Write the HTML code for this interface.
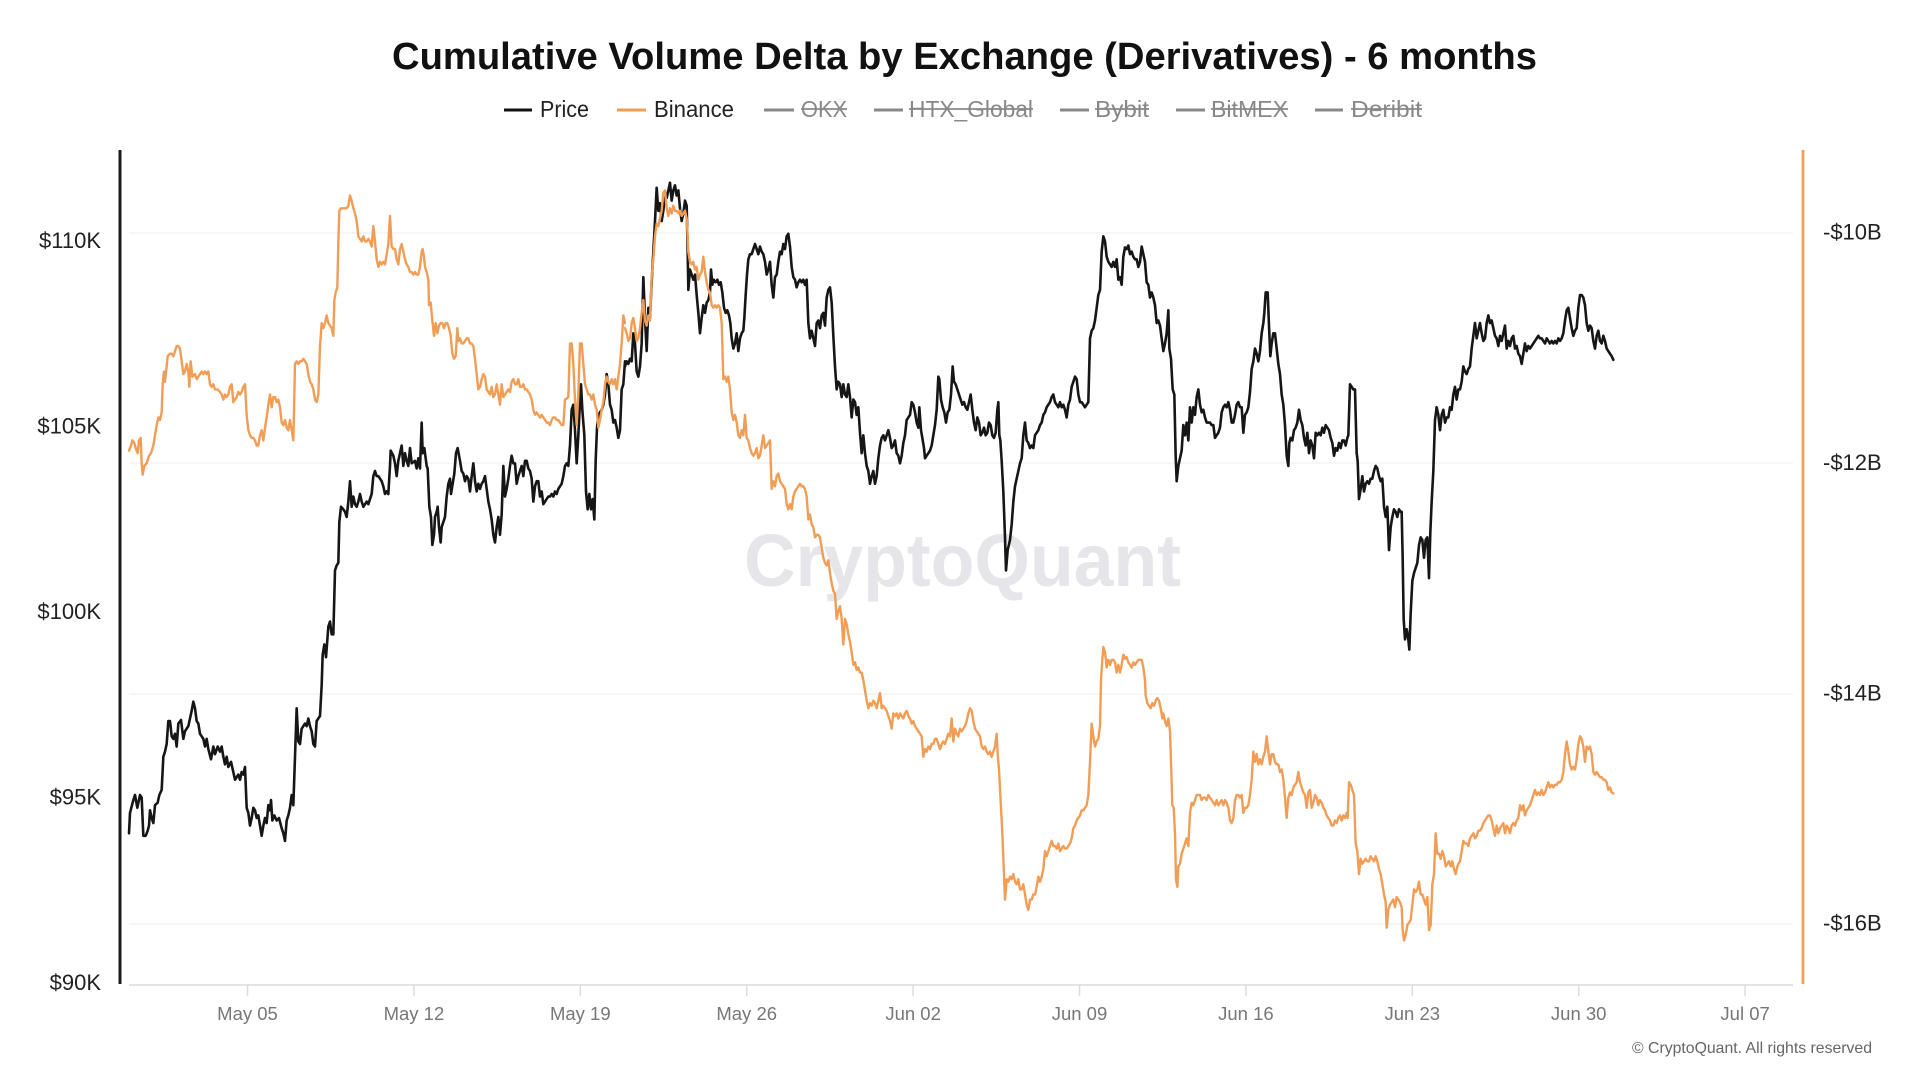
<!DOCTYPE html>
<html>
<head>
<meta charset="utf-8">
<style>
html,body{margin:0;padding:0;background:#fff;}
svg{display:block;}
text{font-family:"Liberation Sans",sans-serif;}
</style>
</head>
<body>
<svg width="1920" height="1080" viewBox="0 0 1920 1080" xmlns="http://www.w3.org/2000/svg">
<rect width="1920" height="1080" fill="#fff"/>

<!-- Title -->
<text x="392" y="69" font-size="38" font-weight="bold" fill="#111" textLength="1145" lengthAdjust="spacingAndGlyphs">Cumulative Volume Delta by Exchange (Derivatives) - 6 months</text>

<!-- Legend -->
<g font-size="23">
<line x1="504" y1="110" x2="532" y2="110" stroke="#111" stroke-width="3"/>
<text x="540" y="117" fill="#222" textLength="49" lengthAdjust="spacingAndGlyphs">Price</text>
<line x1="617" y1="110" x2="646" y2="110" stroke="#f29d55" stroke-width="3"/>
<text x="654" y="117" fill="#222" textLength="80" lengthAdjust="spacingAndGlyphs">Binance</text>

<line x1="764" y1="110" x2="794" y2="110" stroke="#888" stroke-width="3"/>
<text x="801" y="117" fill="#888" textLength="46" lengthAdjust="spacingAndGlyphs">OKX</text>
<line x1="801" y1="109" x2="847" y2="109" stroke="#888" stroke-width="1.8"/>

<line x1="874" y1="110" x2="903" y2="110" stroke="#888" stroke-width="3"/>
<text x="909" y="117" fill="#888" textLength="124" lengthAdjust="spacingAndGlyphs">HTX_Global</text>
<line x1="909" y1="109" x2="1033" y2="109" stroke="#888" stroke-width="1.8"/>

<line x1="1060" y1="110" x2="1089" y2="110" stroke="#888" stroke-width="3"/>
<text x="1095" y="117" fill="#888" textLength="54" lengthAdjust="spacingAndGlyphs">Bybit</text>
<line x1="1095" y1="109" x2="1149" y2="109" stroke="#888" stroke-width="1.8"/>

<line x1="1176" y1="110" x2="1205" y2="110" stroke="#888" stroke-width="3"/>
<text x="1211" y="117" fill="#888" textLength="77" lengthAdjust="spacingAndGlyphs">BitMEX</text>
<line x1="1211" y1="109" x2="1288" y2="109" stroke="#888" stroke-width="1.8"/>

<line x1="1315" y1="110" x2="1343" y2="110" stroke="#888" stroke-width="3"/>
<text x="1351" y="117" fill="#888" textLength="71" lengthAdjust="spacingAndGlyphs">Deribit</text>
<line x1="1351" y1="109" x2="1422" y2="109" stroke="#888" stroke-width="1.8"/>
</g>

<!-- Gridlines -->
<g stroke="#f0f0f0" stroke-width="1.3">
<line x1="129" y1="233" x2="1793" y2="233"/>
<line x1="129" y1="463" x2="1793" y2="463"/>
<line x1="129" y1="694" x2="1793" y2="694"/>
<line x1="129" y1="924" x2="1793" y2="924"/>
</g>

<!-- Watermark -->
<text x="744" y="586" font-size="74" font-weight="bold" fill="#e5e5ea" textLength="437" lengthAdjust="spacingAndGlyphs">CryptoQuant</text>

<!-- X axis -->
<line x1="129" y1="985" x2="1793" y2="985" stroke="#dcdcdc" stroke-width="1.6"/>
<g stroke="#dcdcdc" stroke-width="1.5">
<line x1="247.5" y1="985" x2="247.5" y2="996"/>
<line x1="413.9" y1="985" x2="413.9" y2="996"/>
<line x1="580.3" y1="985" x2="580.3" y2="996"/>
<line x1="746.7" y1="985" x2="746.7" y2="996"/>
<line x1="913.1" y1="985" x2="913.1" y2="996"/>
<line x1="1079.5" y1="985" x2="1079.5" y2="996"/>
<line x1="1245.9" y1="985" x2="1245.9" y2="996"/>
<line x1="1412.3" y1="985" x2="1412.3" y2="996"/>
<line x1="1578.7" y1="985" x2="1578.7" y2="996"/>
<line x1="1745.1" y1="985" x2="1745.1" y2="996"/>
</g>
<g font-size="18.5" fill="#777" text-anchor="middle">
<text x="247.5" y="1020">May 05</text>
<text x="413.9" y="1020">May 12</text>
<text x="580.3" y="1020">May 19</text>
<text x="746.7" y="1020">May 26</text>
<text x="913.1" y="1020">Jun 02</text>
<text x="1079.5" y="1020">Jun 09</text>
<text x="1245.9" y="1020">Jun 16</text>
<text x="1412.3" y="1020">Jun 23</text>
<text x="1578.7" y="1020">Jun 30</text>
<text x="1745.1" y="1020">Jul 07</text>
</g>

<!-- Left axis -->
<line x1="120" y1="150" x2="120" y2="984" stroke="#1a1a1a" stroke-width="3"/>
<g font-size="22" fill="#222" text-anchor="end">
<text x="101" y="248">$110K</text>
<text x="101" y="433.5">$105K</text>
<text x="101" y="619">$100K</text>
<text x="101" y="804.5">$95K</text>
<text x="101" y="990">$90K</text>
</g>

<!-- Right axis -->
<line x1="1803" y1="150" x2="1803" y2="984" stroke="#f29d55" stroke-width="2.7"/>
<g font-size="22" fill="#222" text-anchor="start">
<text x="1823" y="239.7">-$10B</text>
<text x="1823" y="470">-$12B</text>
<text x="1823" y="700.3">-$14B</text>
<text x="1823" y="930.7">-$16B</text>
</g>

<!-- Series: crop 1 -->
<g transform="translate(125,170) scale(0.333333,0.510204)" fill="none" stroke-linejoin="round" stroke-linecap="round">
<polyline vector-effect="non-scaling-stroke" stroke="#161616" stroke-width="2.6" points="12,1300 15,1260 25,1235 30,1225 37,1250 45,1225 50,1230 55,1305 62,1305 68,1295 72,1285 75,1255 80,1270 85,1280 90,1245 98,1240 103,1225 110,1215 115,1150 120,1140 125,1125 130,1080 135,1080 140,1110 145,1115 150,1105 155,1130 160,1085 168,1078 175,1115 180,1100 190,1090 195,1075 200,1060 205,1042 210,1055 215,1080 220,1085 225,1105 230,1110 235,1115 240,1130 245,1115 250,1135 258,1155 265,1130 270,1145 278,1130 285,1140 290,1130 295,1150 300,1165 305,1150 310,1170 318,1160 325,1180 330,1195 335,1190 340,1185 345,1195 350,1180 355,1185 360,1170 365,1250 370,1260 375,1285 380,1270 385,1250 390,1255 395,1270 400,1265 405,1285 410,1305 415,1285 420,1270 425,1280 430,1245 435,1255 438,1235 442,1275 448,1265 455,1275 462,1270 470,1290 475,1300 480,1315 485,1275 490,1265 495,1250 500,1225 505,1245 510,1150 515,1055 520,1120 525,1125 530,1095 540,1085 545,1090 550,1075 555,1090 560,1100 565,1125 570,1130 575,1080 585,1070 590,1010 593,950 598,930 603,955 610,895 615,885 620,910 625,910 630,785 635,775 640,770 643,690 648,660 655,665 660,670 665,680 670,650 675,610 680,660 685,640 690,655 695,660 700,650 705,635 710,650 715,660 720,655 725,650 730,655 735,645 740,635 745,600 750,590 755,600 760,600 765,605 770,610 775,620 780,635 785,630 790,635 795,580 797,550 805,560 810,575 815,600 820,570 825,555 830,540 835,580 840,555 845,570 850,580 855,545 860,575 870,570 875,585 880,565 885,585 890,495 893,555 898,545 905,580 908,585 913,660 918,680 922,735 927,715 930,680 935,670 938,660 942,700 947,730 950,700 955,690 960,680 965,640 970,615 975,605 978,635 983,615 988,595 993,555 998,545 1005,570 1010,590 1015,595 1020,610 1025,600 1030,605 1035,630 1040,600 1045,575 1050,610 1055,630 1060,615 1065,625 1070,615 1075,610 1080,600 1085,625 1090,650 1095,665 1100,685 1105,715 1110,730 1115,700 1120,680 1125,715 1130,675 1135,580 1140,640 1145,625 1150,605 1155,580 1160,560 1165,575 1170,575 1175,615 1180,600 1185,590 1190,580 1195,600 1200,570 1205,570 1210,585 1215,590 1220,605 1225,650 1230,620 1235,610 1240,610 1245,640 1250,630 1255,655 1260,650 1265,645 1270,640 1275,640 1280,635 1285,640 1290,630 1295,635 1300,625 1305,620 1310,615 1315,600 1320,580 1325,575 1330,580 1335,540 1340,470 1345,460 1350,510 1355,575 1360,520 1365,455 1368,420 1372,470 1378,520 1383,630 1388,665 1393,635 1398,665 1403,645 1408,685 1412,570 1416,505 1420,480 1425,475 1430,470 1435,460 1440,440 1445,400 1450,420 1455,460 1460,470 1465,495 1470,490 1475,505 1480,525 1485,510 1490,430 1495,420 1500,375"/>
<polyline vector-effect="non-scaling-stroke" stroke="#f29d55" stroke-width="2.4" points="12,550 18,540 22,530 28,535 32,545 38,555 42,530 47,525 50,575 53,597 58,580 65,575 72,560 78,555 85,540 90,520 95,500 100,485 105,490 110,475 113,420 117,395 120,415 125,385 128,365 135,360 140,360 145,365 150,355 155,345 160,345 165,350 170,375 175,400 180,395 185,380 190,395 193,425 197,375 202,405 210,400 215,410 220,405 225,400 230,395 235,400 240,395 245,400 250,395 255,420 260,425 265,420 270,430 278,430 285,435 290,440 295,450 300,440 305,445 310,440 315,425 320,420 325,455 330,450 335,445 340,435 345,440 350,435 355,425 360,420 365,480 370,510 375,520 380,525 385,525 390,530 395,540 400,540 405,520 410,510 415,530 420,505 425,485 430,460 435,440 440,465 445,445 450,445 455,455 460,450 465,465 470,495 475,500 480,490 485,505 490,510 495,490 500,510 505,530 510,380 515,375 520,380 525,375 530,375 535,370 540,375 545,380 550,400 555,415 560,420 565,430 570,450 575,455 580,440 585,345 590,300 595,310 600,300 605,285 610,300 615,305 620,310 625,325 628,255 632,240 637,230 640,140 643,80 648,75 655,75 665,75 670,70 675,50 680,60 685,75 690,85 695,100 700,130 705,135 710,140 715,130 720,140 725,140 730,135 735,140 740,150 745,110 750,140 755,175 760,190 765,180 770,185 775,180 780,185 785,165 790,145 795,90 800,150 805,155 810,155 815,175 820,185 825,155 830,145 835,160 840,175 845,185 850,190 855,200 860,200 865,205 870,200 875,205 880,205 885,190 890,160 893,155 897,170 900,190 905,200 910,215 912,265 917,260 922,295 927,325 932,300 937,320 942,305 947,300 952,300 957,310 962,300 967,300 972,310 977,325 982,360 987,370 992,365 997,310 1000,335 1005,330 1010,340 1015,340 1020,335 1025,330 1030,330 1035,340 1040,340 1045,345 1050,370 1055,400 1060,430 1065,425 1070,410 1075,400 1080,405 1085,430 1090,435 1095,440 1100,425 1105,445 1110,440 1115,420 1120,440 1125,460 1130,420 1135,445 1140,440 1145,435 1150,430 1155,435 1160,415 1165,410 1170,420 1175,420 1180,410 1185,425 1190,425 1195,420 1200,430 1205,430 1210,435 1215,440 1220,450 1225,470 1230,480 1235,475 1240,480 1245,485 1250,480 1255,485 1260,490 1265,495 1270,495 1275,500 1280,490 1285,485 1290,485 1295,490 1300,490 1305,495 1310,500 1315,500 1320,450 1325,448 1330,445 1335,340 1340,340 1345,380 1350,450 1355,500 1360,440 1365,340 1370,340 1375,380 1380,420 1385,430 1390,440 1395,440 1400,450 1405,440 1410,460 1415,470 1420,505 1425,490 1430,470 1435,455 1440,420 1445,405 1450,415 1455,420 1460,410 1465,420 1470,410 1475,430 1480,405 1485,380 1490,340 1495,285 1500,300"/>
</g>

<!-- Series: crop 2 -->
<g transform="translate(625,170) scale(0.333333,0.510204)" fill="none" stroke-linejoin="round" stroke-linecap="round">
<polyline vector-effect="non-scaling-stroke" stroke="#161616" stroke-width="2.6" points="0,385 5,375 10,380 15,370 20,375 25,320 30,340 35,395 40,405 45,385 50,340 55,210 60,290 65,355 70,270 75,290 80,220 85,160 90,100 95,35 100,80 105,65 110,100 115,80 120,50 125,55 130,40 135,25 140,60 145,40 150,30 155,50 160,40 165,75 170,100 175,85 180,60 185,70 188,160 190,235 195,195 200,205 205,215 210,205 215,245 220,280 225,320 230,290 235,265 240,280 245,260 250,255 255,240 258,195 262,225 266,215 272,220 277,215 282,225 287,220 292,240 297,270 302,280 307,275 312,285 316,300 320,330 325,350 330,340 335,320 340,355 345,330 350,320 355,315 358,290 362,245 366,205 370,175 375,165 380,165 385,155 390,145 395,155 400,165 405,150 410,160 415,165 420,180 425,205 430,195 435,180 440,225 445,250 450,210 455,205 460,180 465,160 470,165 475,145 480,155 485,130 490,125 495,150 500,190 505,210 510,215 515,230 520,220 525,215 530,220 535,215 540,225 545,215 550,300 555,330 560,315 565,330 570,345 575,300 580,295 585,310 590,285 595,280 600,305 605,250 610,235 615,230 620,260 625,325 630,385 635,430 640,415 645,420 650,445 655,420 660,440 665,445 670,420 675,445 680,485 685,450 690,455 695,480 700,465 705,515 710,555 715,520 720,555 725,580 730,590 735,615 740,600 745,590 750,615 755,600 760,565 765,540 770,525 775,520 780,530 785,520 790,510 795,525 800,545 805,540 810,530 815,555 820,560 825,575 830,560 835,535 840,520 845,490 850,485 855,480 860,455 865,460 870,475 875,495 880,505 883,465 888,510 892,525 897,545 900,565 905,560 910,555 915,550 920,540 925,520 930,500 935,470 940,405 943,410 948,450 953,465 958,475 963,495 968,475 973,470 978,440 983,385 987,415 992,420 997,430 1002,440 1007,450 1012,460 1017,455 1022,465 1027,470 1032,455 1037,440 1042,470 1047,495 1052,510 1057,485 1062,495 1067,520 1072,515 1077,505 1082,520 1087,515 1092,495 1097,500 1102,520 1107,525 1112,515 1117,470 1120,455 1123,520 1126,530 1130,570 1135,630 1140,720 1143,785 1148,745 1155,725 1160,695 1165,650 1170,620 1175,605 1180,590 1185,575 1190,565 1195,520 1200,495 1205,530 1210,535 1215,545 1220,540 1225,545 1230,520 1235,515 1240,510 1245,500 1250,495 1255,480 1260,475 1265,465 1270,460 1275,455 1280,445 1285,440 1290,455 1295,460 1300,465 1305,455 1310,465 1315,460 1320,470 1325,485 1330,460 1335,450 1340,425 1345,415 1350,405 1355,410 1360,440 1365,455 1370,455 1375,460 1380,465 1385,460 1390,455 1395,330 1400,315 1405,310 1410,295 1415,270 1420,245 1425,235 1430,160 1435,130 1440,140 1445,170 1450,180 1455,185 1460,190 1465,180 1470,190 1475,175 1480,215 1485,210 1490,225 1495,170 1500,152"/>
<polyline vector-effect="non-scaling-stroke" stroke="#f29d55" stroke-width="2.4" points="0,310 5,320 10,335 15,330 20,300 25,290 30,310 35,335 40,330 45,310 50,280 55,255 60,295 65,305 70,285 75,295 80,210 85,175 90,130 95,105 100,110 105,95 110,80 115,45 120,40 125,75 130,90 135,75 140,85 145,70 150,80 155,80 160,85 165,80 170,90 175,85 180,80 185,95 188,130 190,160 195,180 200,185 205,180 210,195 215,190 220,215 225,205 230,200 235,170 240,200 245,220 250,235 255,240 260,265 265,270 270,265 275,270 280,265 285,270 290,300 295,410 300,405 305,415 310,405 315,430 320,475 325,490 330,480 335,495 340,520 345,525 350,510 355,520 360,480 365,525 370,530 375,545 380,555 385,560 390,555 395,545 400,565 405,560 410,540 415,520 420,545 425,540 430,535 435,530 440,625 445,610 450,620 455,600 460,595 465,610 470,615 475,620 480,625 485,655 490,665 495,655 500,665 505,640 510,630 515,625 520,620 525,615 530,620 535,620 540,625 545,640 550,685 555,675 560,695 565,700 570,720 575,715 580,715 585,720 590,740 595,760 600,770 605,775 610,765 615,790 620,810 625,825 630,830 635,880 640,865 645,855 650,880 655,930 660,880 665,890 670,910 675,925 680,945 685,970 690,965 695,980 700,975 705,985 710,985 715,1000 720,1020 725,1040 730,1055 735,1045 740,1050 745,1040 750,1045 755,1055 760,1040 765,1025 770,1055 775,1050 780,1055 785,1060 790,1070 795,1080 800,1095 805,1065 810,1070 815,1065 820,1075 825,1065 830,1070 835,1075 840,1065 845,1060 850,1070 855,1075 860,1085 865,1080 870,1090 875,1095 880,1100 885,1105 890,1110 895,1150 900,1135 905,1140 910,1130 915,1135 920,1125 925,1125 930,1115 935,1115 940,1125 945,1135 950,1125 955,1120 960,1125 965,1115 970,1105 975,1110 980,1075 985,1120 990,1095 995,1105 1000,1110 1005,1095 1010,1100 1015,1095 1020,1090 1025,1080 1030,1065 1035,1055 1040,1060 1045,1080 1050,1095 1055,1100 1060,1105 1065,1110 1070,1130 1075,1135 1080,1130 1085,1140 1090,1145 1095,1140 1100,1150 1105,1140 1110,1130 1115,1105 1118,1145 1122,1175 1128,1250 1132,1300 1137,1380 1140,1430 1145,1390 1150,1395 1155,1385 1160,1390 1165,1380 1170,1395 1175,1400 1180,1390 1185,1410 1190,1410 1195,1400 1200,1420 1205,1440 1210,1450 1215,1430 1220,1430 1225,1420 1230,1420 1235,1405 1240,1385 1245,1395 1250,1385 1255,1370 1260,1335 1265,1345 1270,1335 1275,1325 1280,1315 1285,1325 1290,1325 1295,1330 1300,1320 1305,1335 1310,1330 1315,1325 1320,1330 1325,1330 1330,1325 1335,1320 1340,1310 1345,1290 1350,1285 1355,1275 1360,1270 1365,1265 1370,1255 1375,1255 1380,1250 1385,1245 1390,1225 1395,1160 1400,1085 1405,1110 1410,1130 1415,1120 1420,1115 1425,1090 1428,1000 1432,960 1435,935 1440,945 1445,975 1450,960 1455,970 1460,960 1465,960 1470,965 1475,985 1480,970 1485,985 1490,970 1495,950 1500,955"/>
</g>

<!-- Series: crop 3 -->
<g transform="translate(1125,170) scale(0.333333,0.510204)" fill="none" stroke-linejoin="round" stroke-linecap="round">
<polyline vector-effect="non-scaling-stroke" stroke="#161616" stroke-width="2.6" points="0,152 5,155 10,148 15,165 20,160 25,170 30,175 35,175 40,190 45,180 50,150 55,165 60,180 65,220 70,225 75,250 80,240 85,250 90,265 95,300 100,295 105,305 110,330 115,355 120,340 125,320 130,275 133,350 138,370 143,430 148,440 152,560 155,610 160,580 165,565 170,550 175,500 180,520 185,495 190,530 195,465 200,495 205,465 210,480 215,445 220,430 225,460 230,475 235,470 240,485 245,495 250,495 255,495 260,500 265,500 270,525 275,520 280,515 285,505 290,475 295,465 300,460 305,465 310,455 315,470 320,495 325,495 330,480 335,460 340,455 345,465 350,465 355,515 360,480 365,475 370,465 375,435 380,390 385,375 390,350 395,360 400,375 405,355 410,320 415,300 418,280 422,240 428,240 432,305 436,365 440,340 445,320 450,320 455,350 460,380 465,400 470,440 475,460 480,500 485,560 490,580 493,535 497,525 502,530 507,510 512,505 517,495 522,470 527,490 532,500 537,525 542,540 547,515 552,555 557,530 562,540 567,565 572,515 577,520 582,515 587,520 592,505 597,515 602,500 607,505 612,510 617,525 622,535 627,560 632,545 637,550 642,535 647,545 652,530 657,530 662,540 667,525 670,520 675,420 680,425 685,430 690,430 695,555 698,570 702,645 707,625 712,600 717,630 722,615 727,610 732,615 737,605 742,605 747,590 752,580 757,585 762,600 767,610 772,605 777,660 782,680 787,660 792,745 797,700 802,680 807,665 812,670 817,680 822,665 827,670 830,670 833,760 836,880 840,920 845,900 850,920 853,940 857,870 862,805 867,790 872,780 877,770 882,735 887,720 892,725 897,760 902,725 907,720 912,800 916,710 920,650 925,590 930,490 935,465 940,480 945,510 950,480 955,470 960,495 965,485 970,485 975,465 980,470 985,440 990,425 995,450 1000,430 1005,430 1010,415 1015,385 1020,395 1025,400 1030,390 1035,385 1040,350 1045,325 1050,300 1055,330 1060,315 1065,300 1070,320 1075,335 1080,330 1085,300 1090,285 1095,300 1100,295 1105,310 1110,325 1115,330 1120,345 1125,325 1130,335 1135,320 1140,305 1145,350 1150,335 1155,345 1160,330 1165,325 1170,350 1175,345 1180,360 1185,365 1190,380 1195,360 1200,340 1205,355 1210,345 1215,350 1220,345 1225,340 1230,335 1235,330 1240,325 1245,330 1250,330 1255,335 1260,340 1265,330 1270,335 1275,340 1280,335 1285,340 1290,335 1295,340 1300,330 1305,335 1310,330 1315,320 1320,295 1325,275 1330,270 1335,290 1340,310 1345,325 1350,315 1355,310 1360,270 1365,245 1370,245 1375,250 1380,265 1385,300 1390,315 1395,305 1400,310 1405,335 1410,350 1415,325 1420,315 1425,335 1430,340 1435,325 1440,335 1445,350 1450,355 1455,360 1460,365 1465,372"/>
<polyline vector-effect="non-scaling-stroke" stroke="#f29d55" stroke-width="2.4" points="0,958 5,955 10,965 15,970 20,975 25,965 30,970 35,965 40,960 45,960 50,960 55,975 60,1000 62,1030 67,1045 72,1050 77,1055 82,1045 87,1050 92,1040 97,1035 102,1040 107,1055 112,1075 115,1065 120,1080 125,1090 130,1075 135,1100 138,1160 142,1245 146,1250 150,1300 153,1390 157,1405 160,1365 165,1360 170,1340 175,1330 180,1320 185,1310 190,1325 195,1260 200,1240 205,1245 210,1235 215,1225 220,1225 225,1225 230,1235 235,1230 240,1230 245,1235 250,1225 255,1230 260,1235 265,1240 270,1245 275,1235 280,1245 285,1240 290,1235 295,1245 300,1235 305,1240 310,1250 315,1275 320,1280 325,1270 330,1235 335,1225 340,1225 345,1230 350,1225 355,1260 360,1250 365,1250 370,1245 375,1225 380,1195 385,1140 390,1160 395,1145 400,1165 405,1155 410,1165 415,1150 420,1140 425,1110 430,1140 435,1165 440,1145 445,1145 450,1160 455,1165 460,1165 465,1180 470,1175 475,1195 480,1230 485,1270 490,1230 495,1220 500,1225 505,1210 510,1205 515,1200 520,1180 525,1200 530,1210 535,1220 540,1225 545,1250 550,1220 555,1215 560,1250 565,1240 570,1225 575,1230 580,1245 585,1235 590,1240 595,1250 600,1255 605,1265 610,1270 615,1275 620,1285 625,1285 630,1275 635,1280 640,1270 645,1265 650,1275 655,1265 660,1270 665,1260 668,1270 672,1200 677,1205 682,1215 687,1225 692,1320 697,1335 702,1380 707,1350 712,1360 717,1355 722,1350 727,1355 732,1355 737,1345 742,1350 747,1355 752,1345 757,1355 762,1370 767,1380 772,1400 777,1420 782,1435 785,1485 790,1450 795,1440 800,1435 805,1430 810,1445 815,1425 820,1430 825,1435 830,1445 833,1490 837,1510 842,1500 847,1480 852,1475 857,1470 862,1440 867,1410 872,1415 877,1410 882,1395 887,1420 892,1420 897,1430 902,1440 907,1425 912,1490 917,1480 922,1400 927,1380 932,1300 937,1340 942,1340 947,1350 952,1335 957,1345 962,1365 967,1360 972,1355 977,1365 982,1355 987,1370 992,1380 997,1365 1000,1360 1005,1355 1010,1335 1015,1315 1020,1320 1025,1320 1030,1325 1035,1310 1040,1305 1045,1300 1050,1310 1055,1305 1060,1295 1065,1295 1070,1290 1075,1280 1080,1275 1085,1270 1090,1265 1095,1265 1100,1275 1105,1290 1110,1305 1115,1285 1120,1300 1125,1290 1130,1285 1135,1280 1140,1300 1145,1285 1150,1290 1155,1300 1160,1285 1165,1280 1170,1285 1175,1275 1180,1270 1185,1245 1190,1255 1195,1245 1200,1265 1205,1255 1210,1250 1215,1245 1220,1235 1225,1225 1230,1215 1235,1225 1240,1220 1245,1225 1250,1215 1255,1225 1260,1220 1265,1210 1270,1200 1275,1210 1280,1205 1285,1210 1290,1205 1295,1205 1300,1200 1305,1200 1310,1195 1315,1180 1320,1145 1325,1120 1330,1140 1335,1165 1340,1175 1345,1170 1350,1175 1355,1155 1360,1125 1365,1110 1370,1115 1375,1130 1380,1160 1385,1130 1390,1135 1395,1130 1400,1145 1405,1180 1410,1185 1415,1180 1420,1185 1425,1190 1430,1190 1435,1195 1440,1195 1445,1200 1450,1215 1455,1210 1460,1220 1465,1222"/>
</g>

<!-- Copyright -->
<text x="1632" y="1053" font-size="16" fill="#666" textLength="240" lengthAdjust="spacingAndGlyphs">© CryptoQuant. All rights reserved</text>
</svg>
</body>
</html>
